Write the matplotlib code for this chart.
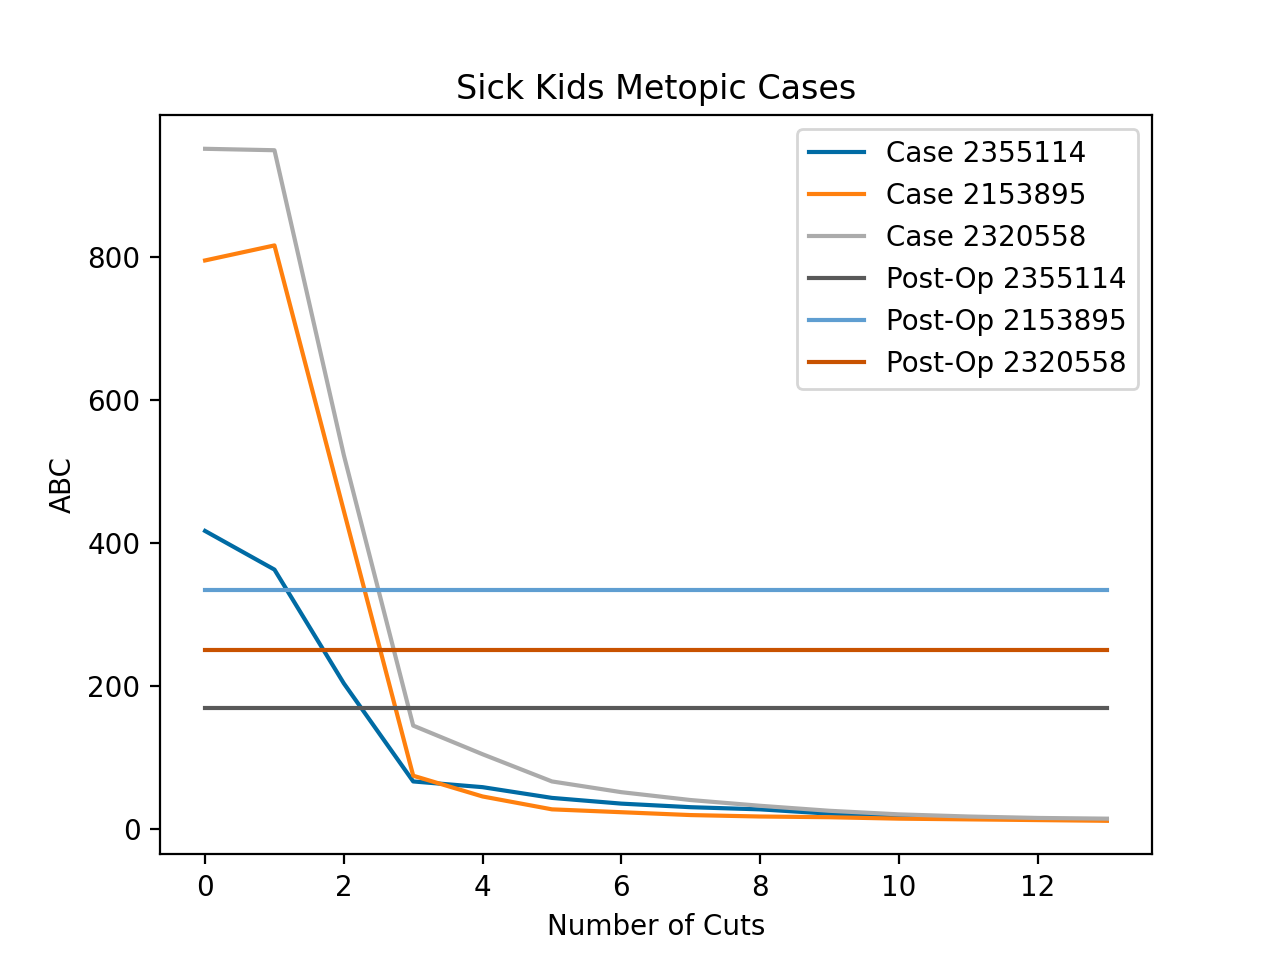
import numpy as np
import matplotlib
matplotlib.use("Agg")
import matplotlib.pyplot as plt

plt.style.use("tableau-colorblind10")

# Datos
cuts = np.arange(14)
case_2355114 = [417, 363, 204, 67, 59, 44, 36, 31, 28, 22, 18, 16, 15, 13]
case_2153895 = [795, 816, 445, 75, 46, 28, 24, 20, 18, 17, 15, 14, 13, 12]
case_2320558 = [951, 949, 523, 145, 105, 67, 52, 41, 33, 26, 21, 18, 16, 15]
postop_2355114 = 170
postop_2153895 = 335
postop_2320558 = 250

fig, ax = plt.subplots(figsize=(6.4, 4.8), dpi=200)
ax.plot(cuts, case_2355114, label="Case 2355114")
ax.plot(cuts, case_2153895, label="Case 2153895")
ax.plot(cuts, case_2320558, label="Case 2320558")
ax.plot(cuts, [postop_2355114] * len(cuts), label="Post-Op 2355114")
ax.plot(cuts, [postop_2153895] * len(cuts), label="Post-Op 2153895")
ax.plot(cuts, [postop_2320558] * len(cuts), label="Post-Op 2320558")
ax.set_title("Sick Kids Metopic Cases")
ax.set_xlabel("Number of Cuts")
ax.set_ylabel("ABC")
ax.legend(loc="upper right")
fig.savefig("out.png")
